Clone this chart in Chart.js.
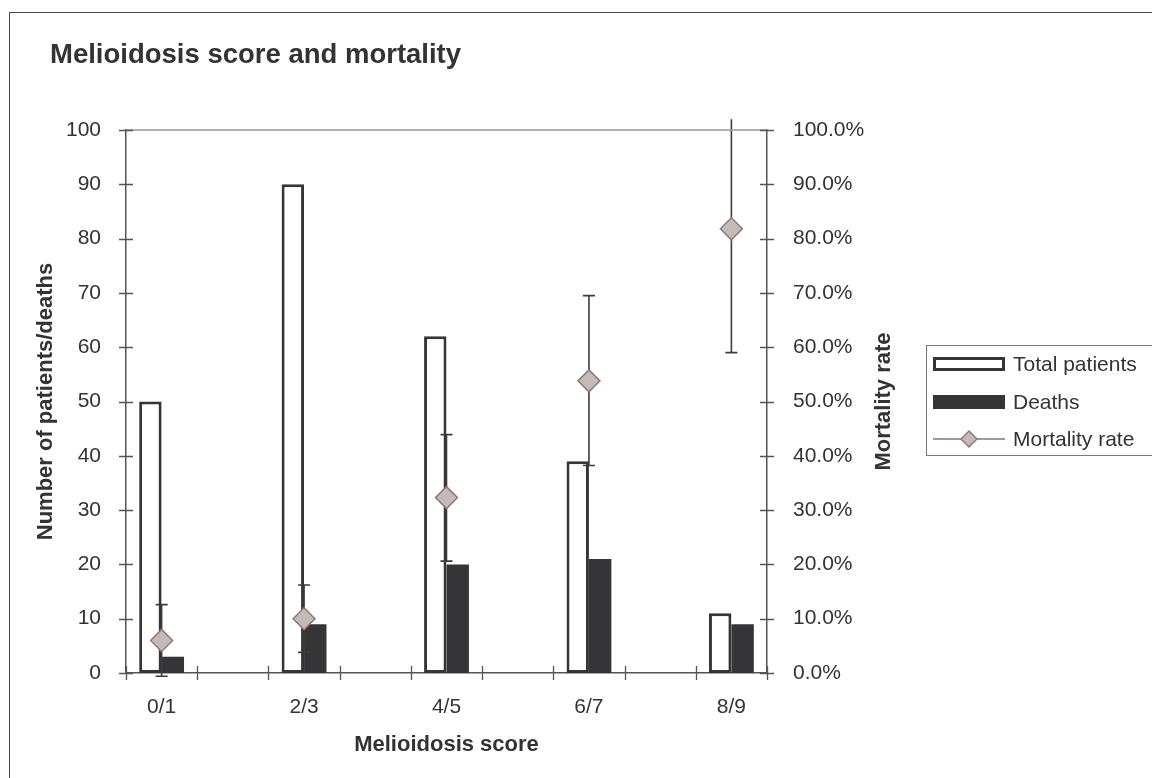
<!DOCTYPE html>
<html>
<head>
<meta charset="utf-8">
<title>Melioidosis score and mortality</title>
<script src="https://cdn.jsdelivr.net/npm/chart.js@4.4.1/dist/chart.umd.min.js"></script>
<style>
    html, body { margin: 0; padding: 0; background: #fff; overflow: hidden; }
    #frame { position: absolute; left: 9px; top: 12px; width: 1200px; height: 800px; border: 1px solid #4a4a4a; }
    #wrap { position: absolute; left: 0; top: 0; width: 1152px; height: 778px; }
</style>
</head>
<body>
<div id="frame"></div>
<div id="wrap"><canvas id="chart" width="1152" height="778"></canvas></div>
<script>
// values
const scoreLabels = ['0/1', '2/3', '4/5', '6/7', '8/9'];
const totalPatients = [50, 90, 62, 39, 11];
const deaths = [3, 9, 20, 21, 9];
const mortalityRate = [6.0, 10.0, 32.3, 53.8, 81.8];   // %
const mortalityLow = [-0.6, 3.8, 20.6, 38.2, 59.0];    // error bar ends, %
const mortalityHigh = [12.6, 16.2, 43.9, 69.5, 102.0];

const DARK = '#353538';
const AXIS = '#555555';
const LINE_COLOR = '#a39893';
const FONT = '"Liberation Sans", Arial, Helvetica, sans-serif';

// Excel draws every score pair in its own slot with an empty slot between them
const axisLabels = [];
scoreLabels.forEach((lbl, i) => {
    axisLabels.push(lbl);
    if (i < scoreLabels.length - 1) axisLabels.push('');
});
const spread = (arr) => axisLabels.map((_, k) => (k % 2 === 0 ? arr[k / 2] : null));

Chart.defaults.font.family = FONT;
Chart.defaults.color = '#333333';

const excelDecor = {
    id: 'excelDecor',
    beforeDatasetDraw(chart, args) {
        if (args.index !== 0) return;
        // error bars under the diamonds
        const ctx = chart.ctx;
        const y1 = chart.scales.y1;
        const pts = args.meta.data;
        ctx.save();
        ctx.strokeStyle = '#3c3c3e';
        ctx.lineWidth = 1.6;
        scoreLabels.forEach((_, i) => {
            const px = pts[i * 2].x;
            const top = y1.getPixelForValue(mortalityHigh[i]);
            const bot = y1.getPixelForValue(mortalityLow[i]);
            ctx.beginPath();
            ctx.moveTo(px, top);
            ctx.lineTo(px, bot);
            ctx.moveTo(px - 6, bot);
            ctx.lineTo(px + 6, bot);
            if (mortalityHigh[i] <= 100) {
                ctx.moveTo(px - 6, top);
                ctx.lineTo(px + 6, top);
            }
            ctx.stroke();
        });
        ctx.restore();
    },
    afterDraw(chart) {
        const ctx = chart.ctx;
        const {left, right, top, bottom} = chart.chartArea;
        const {x, y, y1} = chart.scales;
        ctx.save();

        // top edge of plot area
        ctx.strokeStyle = LINE_COLOR;
        ctx.lineWidth = 1.5;
        ctx.beginPath();
        ctx.moveTo(left, top);
        ctx.lineTo(right, top);
        ctx.stroke();

        // crossing tick marks
        ctx.strokeStyle = AXIS;
        ctx.lineWidth = 1.3;
        ctx.beginPath();
        for (let v = 0; v <= 100; v += 10) {
            const py = Math.round(y.getPixelForValue(v)) + 0.5;
            ctx.moveTo(left - 7, py);
            ctx.lineTo(left + 7, py);
            const py1 = Math.round(y1.getPixelForValue(v)) + 0.5;
            ctx.moveTo(right - 7, py1);
            ctx.lineTo(right + 7, py1);
        }
        const slots = axisLabels.length;
        for (let k = 0; k <= slots; k++) {
            const px = Math.round(x.left + k * (x.right - x.left) / slots) + 0.5;
            ctx.moveTo(px, bottom - 7);
            ctx.lineTo(px, bottom + 7);
        }
        ctx.stroke();

        // right axis title, reading bottom to top like the left one
        ctx.fillStyle = '#333333';
        ctx.font = 'bold 22px ' + FONT;
        ctx.textAlign = 'center';
        ctx.textBaseline = 'middle';
        ctx.translate(884, (top + bottom) / 2);
        ctx.rotate(-Math.PI / 2);
        ctx.fillText('Mortality rate', 0, 0);
        ctx.setTransform(1, 0, 0, 1, 0, 0);

        // legend
        const lx = 926.5, ly = 345.5;
        ctx.strokeStyle = '#7a7a7a';
        ctx.lineWidth = 1;
        ctx.strokeRect(lx, ly, 260, 110);

        const ds = chart.data.datasets;
        const rowY = [364, 402, 439];
        const symL = 933, symR = 1005;

        ctx.strokeStyle = ds[1].borderColor;
        ctx.lineWidth = 3;
        ctx.strokeRect(symL + 1.5, rowY[0] - 5.5, symR - symL - 3, 11);

        ctx.fillStyle = ds[2].backgroundColor;
        ctx.fillRect(symL, rowY[1] - 7, symR - symL, 14);

        ctx.strokeStyle = LINE_COLOR;
        ctx.lineWidth = 2;
        ctx.beginPath();
        ctx.moveTo(symL, rowY[2]);
        ctx.lineTo(symR, rowY[2]);
        ctx.stroke();
        const cx = (symL + symR) / 2, r = 8;
        ctx.beginPath();
        ctx.moveTo(cx - r, rowY[2]);
        ctx.lineTo(cx, rowY[2] - r);
        ctx.lineTo(cx + r, rowY[2]);
        ctx.lineTo(cx, rowY[2] + r);
        ctx.closePath();
        ctx.fillStyle = ds[0].backgroundColor;
        ctx.fill();
        ctx.strokeStyle = ds[0].borderColor;
        ctx.lineWidth = 1.5;
        ctx.stroke();

        ctx.fillStyle = '#333333';
        ctx.font = '21px ' + FONT;
        ctx.textAlign = 'left';
        ctx.textBaseline = 'middle';
        [ds[1].label, ds[2].label, ds[0].label].forEach((t, i) => ctx.fillText(t, 1013, rowY[i] + 1));

        ctx.restore();
    }
};

new Chart(document.getElementById('chart'), {
    type: 'bar',
    data: {
        labels: axisLabels,
        datasets: [
            {
                type: 'line',
                label: 'Mortality rate',
                data: spread(mortalityRate),
                yAxisID: 'y1',
                showLine: false,
                pointStyle: 'rectRot',
                pointRadius: 11,
                pointHoverRadius: 11,
                backgroundColor: '#c4bab7',
                borderColor: '#8c7d78',
                pointBorderWidth: 1.5,
                order: 0
            },
            {
                label: 'Total patients',
                data: spread(totalPatients),
                yAxisID: 'y',
                backgroundColor: '#ffffff',
                borderColor: DARK,
                borderWidth: 3,
                borderSkipped: false,
                categoryPercentage: 0.63,
                barPercentage: 1.0,
                order: 1
            },
            {
                label: 'Deaths',
                data: spread(deaths),
                yAxisID: 'y',
                backgroundColor: DARK,
                borderWidth: 0,
                categoryPercentage: 0.63,
                barPercentage: 1.0,
                order: 1
            }
        ]
    },
    options: {
        responsive: false,
        animation: false,
        layout: { padding: { left: 50, top: 39, right: 255, bottom: 0 } },
        scales: {
            x: {
                offset: true,
                grid: { display: false },
                border: { display: true, color: AXIS, width: 1.5 },
                ticks: { autoSkip: false, maxRotation: 0, padding: 14, font: { size: 21 }, color: '#333333' },
                title: {
                    display: true,
                    text: 'Melioidosis score',
                    font: { size: 22, weight: 'bold' },
                    color: '#333333',
                    padding: { top: 0, bottom: 20 }
                },
                afterFit: (s) => { s.height = 105; }
            },
            y: {
                position: 'left',
                min: 0,
                max: 100,
                grid: { display: false },
                border: { display: true, color: AXIS, width: 1.5 },
                ticks: { stepSize: 10, padding: 17, font: { size: 21 }, color: '#333333' },
                title: {
                    display: true,
                    text: 'Number of patients/deaths',
                    font: { size: 22, weight: 'bold' },
                    color: '#333333',
                    padding: { top: -17, bottom: 0 }
                },
                afterFit: (s) => { s.width = 76; }
            },
            y1: {
                position: 'right',
                min: 0,
                max: 100,
                grid: { display: false },
                border: { display: true, color: AXIS, width: 1.5 },
                ticks: {
                    stepSize: 10,
                    padding: 18,
                    font: { size: 21 },
                    color: '#333333',
                    callback: (v) => v.toFixed(1) + '%'
                },
                afterFit: (s) => { s.width = 130; }
            }
        },
        plugins: {
            legend: { display: false },
            tooltip: { enabled: false },
            title: {
                display: true,
                text: 'Melioidosis score and mortality',
                align: 'start',
                color: '#333333',
                font: { size: 27.5, weight: 'bold' },
                padding: { top: 0, bottom: 58 }
            }
        }
    },
    plugins: [excelDecor]
});
</script>
</body>
</html>
